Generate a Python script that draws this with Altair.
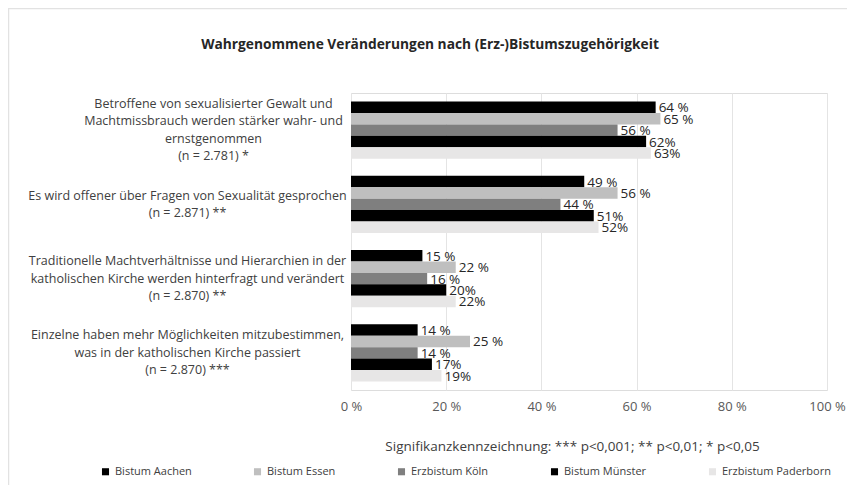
import altair as alt
import pandas as pd

categories = [
    "Betroffene von sexualisierter Gewalt und|Machtmissbrauch werden stärker wahr- und|ernstgenommen|(n = 2.781) *",
    "Es wird offener über Fragen von Sexualität gesprochen|(n = 2.871) **",
    "Traditionelle Machtverhältnisse und Hierarchien in der|katholischen Kirche werden hinterfragt und verändert|(n = 2.870) **",
    "Einzelne haben mehr Möglichkeiten mitzubestimmen,|was in der katholischen Kirche passiert|(n = 2.870) ***",
]
series = ["Bistum Aachen", "Bistum Essen", "Erzbistum Köln", "Bistum Münster", "Erzbistum Paderborn"]
suffixes = [" %", " %", " %", "%", "%"]
colors = ["#000000", "#bfbfbf", "#7f7f7f", "#000000", "#e7e6e6"]
values = {
    "Bistum Aachen":       [64, 49, 15, 14],
    "Bistum Essen":        [65, 56, 22, 25],
    "Erzbistum Köln":      [56, 44, 16, 14],
    "Bistum Münster":      [62, 51, 20, 17],
    "Erzbistum Paderborn": [63, 52, 22, 19],
}
x_ticks = [0, 20, 40, 60, 80, 100]

rows = []
for s, suf in zip(series, suffixes):
    for c, v in zip(categories, values[s]):
        rows.append({"Kategorie": c, "Bistum": s, "Wert": v, "Label": f"{v}{suf}"})
df = pd.DataFrame(rows)

FONT = "Open Sans"
LH = 17.5
NLINES = "length(split(datum.value, '|'))"

y_enc = alt.Y(
    "Kategorie:N", sort=categories, title=None,
    scale=alt.Scale(paddingInner=0.23, paddingOuter=0.115),
    axis=alt.Axis(
        labelExpr="split(datum.label, '|')", labelAlign="center", labelBaseline="middle",
        labelLimit=400, labelLineHeight=LH, labelFontSize=12.5,
        labelColor="#404040", labelFont=FONT, ticks=False, domain=False, grid=False,
        labelPadding={
            "condition": [{"test": f"{NLINES} == 4", "value": 138}],
            "value": 164,
        },
        labelOffset={
            "condition": [
                {"test": f"{NLINES} == 4", "value": -1.5 * LH},
                {"test": f"{NLINES} == 3", "value": -1.0 * LH},
            ],
            "value": -0.5 * LH,
        },
    ),
)
yoff = alt.YOffset("Bistum:N", sort=series, scale=alt.Scale(paddingInner=0, paddingOuter=0))

x_enc = alt.X(
    "Wert:Q", scale=alt.Scale(domain=[0, 100], nice=False),
    axis=alt.Axis(
        values=x_ticks, labelExpr="datum.value + ' %'", labelFontSize=13, labelColor="#595959",
        labelFont=FONT, labelPadding=10, labelFlush=False, ticks=False, domain=False,
        grid=True, gridColor="#e4e4e4",
        title="Signifikanzkennzeichnung: *** p<0,001; ** p<0,01; * p<0,05",
        titleFont=FONT, titleFontSize=13.5, titleFontWeight="normal", titleColor="#404040",
        titleX=221, titleY=56, titleAlign="center", titleBaseline="middle",
    ),
)

bars = alt.Chart(df).mark_bar().encode(
    y=y_enc, yOffset=yoff, x=x_enc,
    color=alt.Color(
        "Bistum:N", sort=series, scale=alt.Scale(domain=series, range=colors),
        legend=alt.Legend(
            title=None, orient="none", direction="horizontal", legendX=-251, legendY=373,
            symbolType="square", symbolSize=50, symbolStrokeWidth=0, columnPadding=60,
            labelFont=FONT, labelFontSize=11, labelColor="#404040", labelOffset=4,
        ),
    ),
)

texts = alt.Chart(df).mark_text(
    align="left", baseline="middle", dx=3, dy=1, font=FONT, fontSize=13.5, color="#262626"
).encode(
    y=alt.Y("Kategorie:N", sort=categories), yOffset=yoff, x="Wert:Q", text="Label:N",
)

frame_top = alt.Chart(pd.DataFrame({"a": [0]})).mark_rule(color="#e2e2e2", strokeWidth=1.5).encode(
    x=alt.value(-343), x2=alt.value(500), y=alt.value(-84.5)
)
frame_left = alt.Chart(pd.DataFrame({"a": [0]})).mark_rule(color="#e2e2e2", strokeWidth=1.5).encode(
    x=alt.value(-342.5), y=alt.value(-85), y2=alt.value(400)
)

chart = alt.layer(bars, texts, frame_top, frame_left).properties(
    width=476, height=297,
    autosize=alt.AutoSizeParams(type="none"),
    padding={"left": 343, "top": 85, "right": 20, "bottom": 95},
    title=alt.TitleParams(
        "Wahrgenommene Veränderungen nach (Erz-)Bistumszugehörigkeit",
        font=FONT, fontSize=13.75, fontWeight="bold", color="#262626",
        anchor="middle", dx=-159, offset=0, dy=44,
    ),
).configure_view(stroke=None).configure(background="white")

chart.save("out.html", embed_options={"renderer": "svg", "actions": False})
